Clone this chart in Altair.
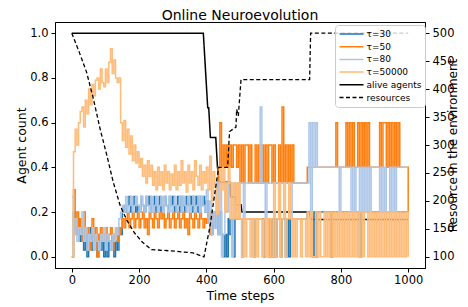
import altair as alt
import pandas as pd

# time grid of the sampled agent-fraction series
T = list(range(0, 1001, 5))

tau30 = [
    0.0, 0.2, 0.13, 0.1, 0.17,  0.07, 0.13, 0.03, 0.1, 0.0,  0.07, 0.13, 0.03, 0.1, 0.07,  0.0, 0.1, 0.03, 0.07, 0.0,
    0.1, 0.0, 0.07, 0.03, 0.1,  0.0, 0.07, 0.03, 0.13, 0.1,  0.2, 0.23, 0.2, 0.23, 0.27,  0.2, 0.23, 0.27, 0.2, 0.23,
    0.2, 0.27, 0.23, 0.2, 0.27,  0.23, 0.27, 0.2, 0.23, 0.27,  0.2, 0.23, 0.27, 0.2, 0.23,  0.27, 0.23, 0.2, 0.27, 0.23,
    0.27, 0.2, 0.23, 0.27, 0.2,  0.27, 0.23, 0.2, 0.27, 0.23,  0.27, 0.2, 0.27, 0.23, 0.27,  0.2, 0.27, 0.23, 0.27, 0.2,
    0.25, 0.15, 0.2, 0.1, 0.2,  0.13, 0.2, 0.1, 0.2, 0.1,  0.0, 0.1, 0.0, 0.17, 0.1,  0.17, 0.0, 0.17, 0.17, 0.17,
    0.17, 0.0, 0.17, 0.17, 0.17,  0.17, 0.17, 0.17, 0.0, 0.17,  0.17, 0.17, 0.17, 0.17, 0.0,  0.17, 0.17, 0.0, 0.17, 0.0,
    0.17, 0.0, 0.17, 0.17, 0.0,  0.17, 0.17, 0.0, 0.17, 0.0,  0.17, 0.17, 0.17, 0.17, 0.17,  0.17, 0.17, 0.17, 0.17, 0.17,
    0.2, 0.2, 0.2, 0.0, 0.2,  0.0, 0.2, 0.2, 0.2, 0.2,  0.2, 0.2, 0.2, 0.2, 0.0,  0.2, 0.2, 0.2, 0.2, 0.2,
    0.2, 0.2, 0.2, 0.2, 0.2,  0.2, 0.2, 0.2, 0.2, 0.2,  0.2, 0.0, 0.2, 0.2, 0.2,  0.2, 0.2, 0.2, 0.2, 0.2,
    0.2, 0.2, 0.2, 0.2, 0.2,  0.2, 0.2, 0.2, 0.2, 0.2,  0.2, 0.2, 0.2, 0.2, 0.2,  0.2, 0.2, 0.2, 0.2, 0.2,  0.2,
]

tau50 = [
    0.0, 0.3, 0.1, 0.2, 0.13,  0.17, 0.07, 0.2, 0.1, 0.13,  0.03, 0.1, 0.17, 0.07, 0.13,  0.0, 0.1, 0.13, 0.07, 0.1,
    0.13, 0.07, 0.1, 0.13, 0.03,  0.1, 0.13, 0.07, 0.1, 0.13,  0.17, 0.13, 0.17, 0.2, 0.13,  0.17, 0.2, 0.13, 0.17, 0.2,
    0.13, 0.17, 0.2, 0.13, 0.17,  0.1, 0.2, 0.17, 0.13, 0.2,  0.17, 0.13, 0.2, 0.17, 0.23,  0.13, 0.17, 0.2, 0.13, 0.17,
    0.2, 0.13, 0.17, 0.2, 0.13,  0.17, 0.2, 0.13, 0.17, 0.1,  0.2, 0.17, 0.13, 0.2, 0.17,  0.13, 0.2, 0.17, 0.13, 0.17,
    0.15, 0.2, 0.1, 0.2, 0.15,  0.2, 0.3, 0.4, 0.6, 0.4,  0.5, 0.4, 0.5, 0.4, 0.5,  0.4, 0.5, 0.5, 0.4, 0.5,
    0.33, 0.5, 0.33, 0.5, 0.5,  0.33, 0.5, 0.33, 0.33, 0.5,  0.33, 0.5, 0.33, 0.5, 0.33,  0.5, 0.33, 0.5, 0.5, 0.33,
    0.5, 0.33, 0.33, 0.5, 0.33,  0.67, 0.33, 0.5, 0.33, 0.5,  0.33, 0.5, 0.33, 0.33, 0.33,  0.33, 0.33, 0.33, 0.33, 0.33,
    0.4, 0.4, 0.4, 0.4, 0.4,  0.4, 0.4, 0.4, 0.4, 0.4,  0.4, 0.4, 0.4, 0.4, 0.4,  0.4, 0.4, 0.6, 0.4, 0.4,
    0.4, 0.4, 0.4, 0.6, 0.4,  0.6, 0.4, 0.6, 0.4, 0.4,  0.6, 0.4, 0.6, 0.4, 0.6,  0.4, 0.6, 0.4, 0.4, 0.4,
    0.4, 0.4, 0.4, 0.6, 0.4,  0.6, 0.6, 0.4, 0.6, 0.4,  0.6, 0.4, 0.6, 0.4, 0.6,  0.4, 0.4, 0.4, 0.4, 0.4,  0.2,
]

tau80 = [
    0.27, 0.1, 0.17, 0.07, 0.13,  0.1, 0.2, 0.07, 0.13, 0.03,  0.1, 0.07, 0.13, 0.03, 0.1,  0.07, 0.03, 0.1, 0.07, 0.13,
    0.03, 0.1, 0.07, 0.03, 0.1,  0.07, 0.13, 0.1, 0.17, 0.2,  0.23, 0.2, 0.27, 0.2, 0.23,  0.27, 0.2, 0.23, 0.27, 0.23,
    0.2, 0.27, 0.23, 0.2, 0.27,  0.23, 0.2, 0.27, 0.2, 0.23,  0.27, 0.2, 0.23, 0.27, 0.2,  0.27, 0.23, 0.2, 0.27, 0.2,
    0.23, 0.27, 0.2, 0.23, 0.27,  0.2, 0.27, 0.23, 0.2, 0.27,  0.2, 0.23, 0.27, 0.2, 0.23,  0.27, 0.2, 0.27, 0.23, 0.2,
    0.3, 0.15, 0.25, 0.1, 0.2,  0.13, 0.33, 0.1, 0.33, 0.0,  0.1, 0.33, 0.2, 0.33, 0.33,  0.0, 0.17, 0.33, 0.33, 0.17,
    0.33, 0.33, 0.17, 0.33, 0.33,  0.33, 0.33, 0.33, 0.33, 0.33,  0.33, 0.33, 0.67, 0.33, 0.33,  0.17, 0.33, 0.33, 0.33, 0.33,
    0.33, 0.33, 0.33, 0.17, 0.33,  0.33, 0.33, 0.33, 0.33, 0.33,  0.17, 0.33, 0.33, 0.33, 0.33,  0.33, 0.33, 0.33, 0.33, 0.33,
    0.33, 0.6, 0.2, 0.6, 0.4,  0.6, 0.4, 0.4, 0.4, 0.4,  0.4, 0.4, 0.4, 0.4, 0.4,  0.4, 0.4, 0.4, 0.4, 0.2,
    0.4, 0.4, 0.4, 0.4, 0.4,  0.4, 0.2, 0.4, 0.2, 0.4,  0.4, 0.2, 0.4, 0.2, 0.4,  0.2, 0.4, 0.2, 0.4, 0.4,
    0.4, 0.4, 0.4, 0.2, 0.4,  0.2, 0.4, 0.2, 0.2, 0.4,  0.2, 0.4, 0.2, 0.4, 0.4,  0.4, 0.4, 0.4, 0.4, 0.4,  0.4,
]

tau50000 = [
    0.0, 0.47, 0.57, 0.5, 0.6,  0.65, 0.67, 0.58, 0.7, 0.64,  0.75, 0.68, 0.77, 0.72, 0.79,  0.8, 0.75, 0.84, 0.78, 0.76,
    0.84, 0.78, 0.87, 0.93, 0.82,  0.88, 0.8, 0.78, 0.8, 0.6,  0.52, 0.61, 0.49, 0.57, 0.46,  0.54, 0.43, 0.5, 0.42, 0.47,
    0.4, 0.44, 0.36, 0.41, 0.33,  0.43, 0.36, 0.41, 0.32, 0.38,  0.3, 0.4, 0.32, 0.38, 0.3,  0.41, 0.33, 0.38, 0.3, 0.37,
    0.32, 0.41, 0.3, 0.38, 0.32,  0.43, 0.33, 0.38, 0.29, 0.41,  0.33, 0.38, 0.3, 0.43, 0.36,  0.32, 0.41, 0.3, 0.38, 0.33,
    0.4, 0.3, 0.45, 0.25, 0.38,  0.31, 0.19, 0.25, 0.4, 0.3,  0.4, 0.2, 0.33, 0.4, 0.17,  0.33, 0.17, 0.33, 0.17, 0.33,
    0.17, 0.0, 0.17, 0.0, 0.17,  0.17, 0.0, 0.17, 0.0, 0.17,  0.0, 0.17, 0.17, 0.0, 0.17,  0.0, 0.17, 0.0, 0.17, 0.0,
    0.33, 0.0, 0.17, 0.33, 0.0,  0.17, 0.33, 0.0, 0.17, 0.33,  0.17, 0.0, 0.17, 0.0, 0.17,  0.17, 0.0, 0.17, 0.17, 0.0,
    0.2, 0.0, 0.2, 0.0, 0.0,  0.2, 0.0, 0.2, 0.0, 0.0,  0.2, 0.0, 0.2, 0.0, 0.2,  0.0, 0.2, 0.0, 0.2, 0.0,
    0.2, 0.0, 0.2, 0.0, 0.2,  0.0, 0.2, 0.0, 0.2, 0.0,  0.2, 0.0, 0.2, 0.0, 0.2,  0.2, 0.0, 0.2, 0.0, 0.2,
    0.0, 0.2, 0.0, 0.2, 0.0,  0.2, 0.0, 0.2, 0.0, 0.2,  0.0, 0.2, 0.0, 0.2, 0.0,  0.2, 0.0, 0.2, 0.0, 0.2,  0.0,
]

alive_t = [0, 391, 404, 407, 412, 428, 433, 440, 470, 472, 487, 489, 503, 506, 707, 710, 1000]
alive_v = [1.0, 1.0, 0.667, 0.667, 0.533, 0.533, 0.4, 0.333, 0.333, 0.267, 0.267, 0.233, 0.233, 0.2, 0.2, 0.167, 0.167]

res_t = [0, 24, 44, 64, 84, 104, 123, 143, 163, 186, 210, 237, 308, 360, 393, 411, 431, 437, 463,
         469, 488, 490, 495, 503, 707, 710, 1000]
res_v = [500, 463, 430, 383, 329, 282, 234, 193, 166, 143, 126, 113, 110, 107, 100, 155, 238, 260, 260,
         324, 332, 364, 352, 417, 417, 500, 500]

names = ["τ=30", "τ=50", "τ=80", "τ=50000", "alive agents", "resources"]
colors = ["#1f77b4", "#ff7f0e", "#aec7e8", "#ffbb78", "#000000", "#000000"]
dashes = [[1, 0], [1, 0], [1, 0], [1, 0], [1, 0], [4, 2.5]]

color_scale = alt.Scale(domain=names, range=colors)
dash_scale = alt.Scale(domain=names, range=dashes)

legend = alt.Legend(
    title=None, orient="none", legendX=280, legendY=3,
    labelFontSize=9, labelFont="DejaVu Sans", labelColor="#000",
    symbolType="stroke", symbolSize=576, symbolStrokeWidth=1.5,
    fillColor="rgba(255,255,255,0.8)", strokeColor="#cccccc", cornerRadius=3,
    padding=3.5, rowPadding=1.7, clipHeight=11, labelOffset=2,
)

x_enc = alt.X(
    "t:Q",
    scale=alt.Scale(domain=[-50, 1050], nice=False, zero=False),
    axis=alt.Axis(values=[0, 200, 400, 600, 800, 1000], format="d", title="Time steps",
                  labelPadding=2, titleY=31, titleBaseline="alphabetic"),
)
y_left = alt.Y(
    "v:Q",
    scale=alt.Scale(domain=[-0.05, 1.05], nice=False, zero=False),
    axis=alt.Axis(orient="left", values=[0, 0.2, 0.4, 0.6, 0.8, 1.0], format=".1f",
                  title="Agent count", titleAngle=270, titleX=-34, titleY=123,
                  titleBaseline="middle", titleAlign="center", labelPadding=3),
)
y_right = alt.Y(
    "r:Q",
    scale=alt.Scale(domain=[80, 520], nice=False, zero=False),
    axis=alt.Axis(orient="right", values=[100, 150, 200, 250, 300, 350, 400, 450, 500],
                  title="Resource in the environment", titleAngle=270, titleX=31, titleY=123,
                  titleBaseline="alphabetic", titleAlign="center", titleFontSize=12,
                  labelPadding=3),
)


def left_layer(ts, vals, name, width, interp):
    df = pd.DataFrame({"t": ts[:len(vals)], "v": vals[:len(ts)], "s": name})
    return alt.Chart(df).mark_line(strokeWidth=width, interpolate=interp).encode(
        x=x_enc, y=y_left,
        color=alt.Color("s:N", scale=color_scale, legend=legend),
        strokeDash=alt.StrokeDash("s:N", scale=dash_scale, legend=legend),
    )


left = alt.layer(
    left_layer(alive_t, alive_v, "alive agents", 1.5, "linear"),
    left_layer(T, tau30, "τ=30", 1.5, "step-after"),
    left_layer(T, tau50, "τ=50", 1.5, "step-after"),
    left_layer(T, tau80, "τ=80", 1.5, "step-after"),
    left_layer(T, tau50000, "τ=50000", 1.5, "step-after"),
)

res_df = pd.DataFrame({"t": res_t, "r": res_v, "s": "resources"})
right = alt.Chart(res_df).mark_line(strokeWidth=1.3).encode(
    x=x_enc, y=y_right,
    color=alt.Color("s:N", scale=color_scale, legend=legend),
    strokeDash=alt.StrokeDash("s:N", scale=dash_scale, legend=legend),
)

chart = (
    alt.layer(left, right)
    .resolve_scale(y="independent")
    .properties(
        width=370, height=246,
        title=alt.TitleParams("Online Neuroevolution", fontSize=14, font="DejaVu Sans",
                              fontWeight="normal", offset=2, dy=3,
                              anchor="middle", color="#000"),
        autosize=alt.AutoSizeParams(type="none"),
        padding={"left": 47, "top": 14, "right": 35, "bottom": 39},
    )
    .configure(font="DejaVu Sans")
    .configure_view(stroke="#000", strokeWidth=1)
    .configure_axis(
        grid=False, domainColor="#000", tickColor="#000", labelColor="#000", titleColor="#000",
        labelFontSize=11.5, titleFontSize=12.5, titleFontWeight="normal",
        tickSize=4, domainWidth=1, tickWidth=1, labelFont="DejaVu Sans", titleFont="DejaVu Sans",
    )
)

chart.save("out.html", embed_options={"renderer": "svg", "actions": False})
